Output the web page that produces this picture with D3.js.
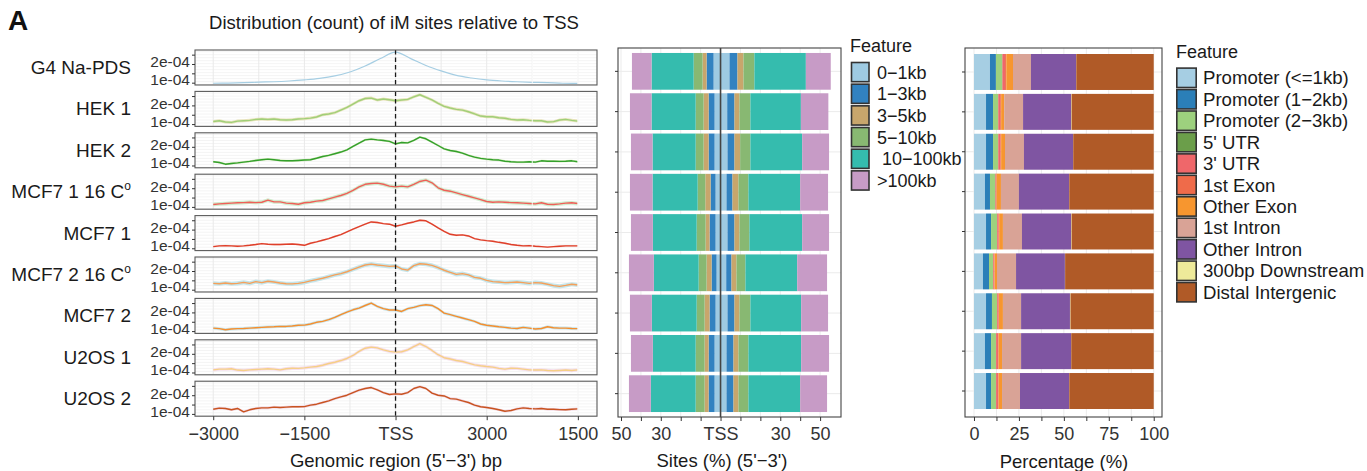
<!DOCTYPE html>
<html><head><meta charset="utf-8">
<script src="https://cdn.jsdelivr.net/npm/d3@7"></script>
<style>
body{margin:0;background:#fff}
text{font-family:"Liberation Sans",Arial,Helvetica,sans-serif;}
</style>
</head><body>
<svg id="c" width="1367" height="471"></svg>
<script>
// ---------------- DATA ----------------
const samples = ["G4 Na-PDS","HEK 1","HEK 2","MCF7 1 16 C","MCF7 1","MCF7 2 16 C","MCF7 2","U2OS 1","U2OS 2"];
const sampleSup = ["","","","o","","o","","",""];

// Left panel: genomic positions (bp) and density values (units of 1e-4)
const g4Pos = [-3000,-2750,-2500,-2250,-2000,-1750,-1500,-1250,-1000,-750,-500,-250,0,250,500,750,1000,1250,1500,1750,2000,2250,2500,2750,3000];
const g4Vals = [0.97,0.98,1.00,1.03,1.05,1.09,1.15,1.23,1.36,1.57,1.89,2.29,2.63,2.29,1.92,1.63,1.39,1.25,1.15,1.09,1.05,1.02,1.00,0.97,0.96];

const pos = [-3000,-2900,-2800,-2700,-2600,-2500,-2400,-2300,-2200,-2100,-2000,-1900,-1800,-1700,-1600,-1500,-1400,-1300,-1200,-1100,-1000,-900,-800,-700,-600,-500,-400,-300,-200,-100,0,100,200,300,400,500,600,700,800,900,1000,1100,1200,1300,1400,1500,1600,1700,1800,1900,2000,2100,2200,2300,2400,2500,2600,2700,2800,2900,3000];
const hek1 = [1.14,1.18,1.11,1.09,1.16,1.18,1.20,1.25,1.27,1.25,1.27,1.23,1.22,1.23,1.27,1.29,1.32,1.38,1.50,1.54,1.61,1.75,1.89,2.07,2.25,2.37,2.39,2.29,2.34,2.30,2.25,2.29,2.32,2.46,2.57,2.43,2.29,2.11,1.95,1.86,1.79,1.75,1.66,1.55,1.43,1.39,1.39,1.34,1.31,1.25,1.22,1.23,1.20,1.18,1.18,1.11,1.13,1.22,1.25,1.20,1.16];
const hek2 = [1.20,1.16,1.07,1.11,1.14,1.18,1.22,1.27,1.31,1.34,1.31,1.27,1.25,1.25,1.27,1.29,1.31,1.39,1.48,1.54,1.63,1.72,1.84,2.02,2.20,2.37,2.41,2.37,2.34,2.29,2.16,2.23,2.21,2.34,2.52,2.43,2.25,2.07,1.89,1.80,1.75,1.66,1.54,1.45,1.38,1.34,1.31,1.29,1.23,1.20,1.18,1.18,1.20,1.18,1.25,1.23,1.23,1.22,1.23,1.25,1.20];
const mcf7_1_16 = [1.13,1.16,1.18,1.20,1.22,1.23,1.25,1.23,1.25,1.36,1.27,1.27,1.20,1.18,1.14,1.22,1.25,1.31,1.34,1.43,1.52,1.61,1.72,1.88,2.07,2.21,2.25,2.27,2.21,2.11,2.07,2.11,2.07,2.21,2.36,2.43,2.29,2.02,1.89,1.84,1.75,1.66,1.57,1.48,1.39,1.29,1.25,1.27,1.25,1.23,1.22,1.20,1.18,1.16,1.22,1.14,1.13,1.16,1.20,1.22,1.18];
const mcf7_1 = [1.09,1.13,1.14,1.13,1.11,1.13,1.16,1.20,1.25,1.22,1.20,1.20,1.22,1.23,1.20,1.16,1.27,1.34,1.43,1.52,1.63,1.73,1.88,2.02,2.16,2.29,2.41,2.38,2.32,2.29,2.18,2.25,2.34,2.41,2.50,2.47,2.29,2.09,1.91,1.75,1.70,1.72,1.66,1.52,1.45,1.41,1.38,1.32,1.27,1.20,1.16,1.13,1.14,1.11,1.09,1.06,1.09,1.11,1.13,1.13,1.13];
const mcf7_2_16 = [1.34,1.32,1.36,1.32,1.34,1.39,1.34,1.43,1.38,1.45,1.41,1.36,1.32,1.31,1.34,1.39,1.47,1.54,1.61,1.70,1.79,1.86,1.96,2.09,2.21,2.32,2.37,2.32,2.29,2.25,2.27,2.11,2.05,2.29,2.39,2.36,2.30,2.18,2.04,1.93,1.82,1.86,1.79,1.66,1.61,1.50,1.43,1.41,1.38,1.39,1.41,1.38,1.34,1.38,1.36,1.29,1.22,1.18,1.23,1.29,1.25];
const mcf7_2 = [1.16,1.13,1.07,1.11,1.13,1.14,1.16,1.18,1.20,1.22,1.23,1.25,1.25,1.27,1.31,1.32,1.38,1.47,1.52,1.61,1.73,1.88,2.02,2.14,2.23,2.37,2.50,2.32,2.20,2.13,2.13,2.05,2.20,2.27,2.36,2.41,2.37,2.20,1.96,1.88,1.79,1.70,1.61,1.52,1.38,1.31,1.27,1.23,1.20,1.16,1.14,1.20,1.16,1.11,1.14,1.23,1.18,1.16,1.16,1.14,1.13];
const u2os1 = [1.14,1.18,1.18,1.20,1.13,1.11,1.14,1.16,1.18,1.20,1.18,1.14,1.20,1.23,1.22,1.25,1.29,1.32,1.39,1.48,1.55,1.64,1.75,1.91,2.13,2.30,2.36,2.32,2.21,2.13,2.09,2.11,2.21,2.39,2.54,2.39,2.18,1.95,1.79,1.72,1.64,1.59,1.50,1.41,1.36,1.32,1.29,1.22,1.18,1.23,1.22,1.18,1.14,1.13,1.14,1.11,1.09,1.11,1.13,1.11,1.14];
const u2os2 = [1.25,1.31,1.29,1.22,1.29,1.11,1.22,1.29,1.32,1.32,1.36,1.34,1.36,1.38,1.38,1.39,1.47,1.52,1.61,1.70,1.82,1.91,2.00,2.14,2.27,2.36,2.41,2.29,2.14,2.04,2.07,2.05,2.14,2.36,2.46,2.36,2.11,2.00,1.96,1.82,1.79,1.70,1.61,1.47,1.38,1.34,1.29,1.22,1.14,1.18,1.27,1.32,1.29,1.27,1.29,1.25,1.25,1.23,1.22,1.25,1.27];
const ciHalf = [0,0.08,0.06,0.10,0.05,0.11,0.08,0.09,0.07]; // ribbon half-width, 1e-4 units
const xTickVals = [-3000,-1500,0,1500,3000];
const xTickLabels = ["\u22123000","\u22121500","TSS","3000","1500"];

// Middle panel: distance-to-TSS distribution (% of sites), upstream / downstream
const distFeatures = ["0\u22121kb","1\u22123kb","3\u22125kb","5\u221210kb"," 10\u2212100kb",">100kb"];
const up0to1 = [3.5,3,3,2.5,2.5,2,2.5,3,3];
const up1to3 = [3.5,3,3,2.5,3,2.5,3,3,3];
const up3to5 = [2,2.5,2.5,2.65,2,2.5,2.5,2,2];
const up5to10 = [4.5,4,4,3.85,4.5,4,4,4.5,4.5];
const up10to100 = [21.15,22.15,21.65,22.65,22,22.5,22.5,21.5,22.5];
const upOver100 = [9.85,10.85,10.85,11.35,11,12.5,11,11,11];
const dn0to1 = [4.5,3.35,3.5,3,3.5,2.85,3.5,3,3];
const dn1to3 = [4,3.65,3.5,3,3.5,2.65,3.5,3.5,3.5];
const dn3to5 = [3,2.5,2.85,3,2.5,2.5,2.5,2.5,2.5];
const dn5to10 = [5.5,5.5,5.15,5,5,4.5,5.5,5,5];
const dn10to100 = [25.85,25.35,26,26,26.5,26,25.5,26.5,26];
const dnOver100 = [12.5,13.8,13.5,14,13.5,15,13.5,14,13.5];
const distTickVals = [-50,-30,0,30,50];
const distTickLabels = ["50","30","TSS","30","50"];

// Right panel: genomic annotation (%)
const annoFeatures = ["Promoter (<=1kb)","Promoter (1\u22122kb)","Promoter (2\u22123kb)","5' UTR","3' UTR","1st Exon","Other Exon","1st Intron","Other Intron","300bp Downstream","Distal Intergenic"];
const promoter1kb = [8.9,6.7,6.7,6.1,6.7,5.0,6.7,6.1,6.7];
const promoter2kb = [3.3,3.9,3.9,2.8,2.8,3.35,3.3,3.4,2.8];
const promoter3kb = [3.4,2.8,2.8,2.8,3.3,2.25,2.8,2.7,2.7];
const utr5 = [0.2,0.1,0.1,0.2,0.1,0.1,0.1,0.1,0.1];
const utr3 = [1.5,1.1,1.2,0.4,0.8,0.6,0.8,1.1,1.1];
const exon1 = [0.7,0.5,0.4,0.3,0.3,0.2,0.2,0.3,0.3];
const otherExon = [3.7,1.7,2.15,2.4,2.1,1.3,2.2,1.9,1.9];
const intron1 = [10,10.5,10.55,10,10.6,10.6,10.1,10.6,10];
const otherIntron = [25.1,26.7,27.3,27.9,27.3,27.2,27.2,27.8,27.3];
const downstream300 = [0.1,0.3,0.1,0.1,0.3,0.1,0.3,0.1,0.1];
const distal = [43.1,45.7,44.8,47.0,45.7,49.3,46.3,45.9,47.0];
const pctTickVals = [0,25,50,75,100];

// ---------------- STYLE ----------------
const lineColors = ["#a6cee3","#a0cf78","#33a02c","#ef5f58","#df3f2a","#f5a05a","#f58e2e","#f6cf86","#c8541f"];
const ribbonColors = [null,"#e4e0b4","#cfe6b4","#cbe9c8","#f4d5ce","#bfe2e8","#c4e3ea","#f4dbea","#f0cfdf"];
const distColors = ["#9ecae2","#3282c0","#c8a66c","#88b872","#35bcae","#c79bc6"];
const annoColors = ["#a6cee3","#2b7fb8","#9dd17e","#6b9e4a","#ef676a","#ef6b4a","#f7962f","#d9a396","#7f55a2","#eeea9a","#b05a27"];
const txt = "#1a1a1a", tick = "#333";
const FF = "'Liberation Sans',Arial,sans-serif";

const svg = d3.select("#c");
svg.append("rect").attr("width",1367).attr("height",471).attr("fill","#fff");

// ---------------- LEFT PANEL ----------------
svg.append("text").attr("x",8).attr("y",30).attr("font-size",28).attr("font-weight","bold").attr("fill","#111").text("A");
svg.append("text").attr("x",394).attr("y",29).attr("text-anchor","middle").attr("font-size",18.5).attr("fill",txt)
  .text("Distribution (count) of iM sites relative to TSS");

const seriesVals = [g4Vals,hek1,hek2,mcf7_1_16,mcf7_1,mcf7_2_16,mcf7_2,u2os1,u2os2];
const facet = d3.scaleBand().domain(samples).range([50,416.2]).paddingInner(0.155).paddingOuter(0);
const xL = d3.scaleLinear().domain([-3300,3315]).range([195,597]);
const bh = facet.bandwidth();

samples.forEach((s,i)=>{
  const g = svg.append("g").attr("transform",`translate(0,${facet(s)})`);
  const y = d3.scaleLinear().domain([0.877e-4,2.749e-4]).range([bh,0]);
  g.append("rect").attr("x",195).attr("y",0).attr("width",402).attr("height",bh).attr("fill","#fff");
  g.selectAll("line.hg").data(d3.range(0.9e-4,2.75e-4,0.16e-4)).enter().append("line")
    .attr("x1",195).attr("x2",597).attr("y1",d=>y(d)).attr("y2",d=>y(d))
    .attr("stroke","#f1f1f1").attr("stroke-width",0.8);
  g.selectAll("line.vg").data(d3.range(-3000,3001,750)).enter().append("line")
    .attr("x1",d=>xL(d)).attr("x2",d=>xL(d)).attr("y1",0).attr("y2",bh)
    .attr("stroke","#e9e9e9").attr("stroke-width",1);
  const xs = i===0 ? g4Pos : pos;
  const vals = seriesVals[i];
  const data = xs.map((x,k)=>({x, v: vals[k]*1e-4}));
  if (ciHalf[i] > 0) {
    const area = d3.area().x(d=>xL(d.x)).y0(d=>y(d.v - ciHalf[i]*1e-4)).y1(d=>y(d.v + ciHalf[i]*1e-4));
    g.append("path").datum(data).attr("d",area).attr("fill",ribbonColors[i]).attr("opacity",0.9);
  }
  const line = d3.line().x(d=>xL(d.x)).y(d=>y(d.v)).curve(i===0 ? d3.curveMonotoneX : d3.curveLinear);
  g.append("path").datum(data).attr("d",line).attr("fill","none").attr("stroke",lineColors[i])
    .attr("stroke-width",i===0?1.2:1.4).attr("stroke-linejoin","round");
  g.selectAll("line.wg").data([2250,3000]).enter().append("line")
    .attr("x1",d=>xL(d)).attr("x2",d=>xL(d)).attr("y1",0).attr("y2",bh)
    .attr("stroke","#fff").attr("stroke-width",1).attr("opacity",0.9);
  g.append("line").attr("x1",xL(0)).attr("x2",xL(0)).attr("y1",0).attr("y2",bh)
    .attr("stroke","#1a1a1a").attr("stroke-width",1.3).attr("stroke-dasharray","4.5,3");
  g.append("rect").attr("x",195).attr("y",0).attr("width",402).attr("height",bh)
    .attr("fill","none").attr("stroke","#5a5a5a").attr("stroke-width",1.1);
  // y axis
  const ya = g.append("g").attr("transform","translate(195,0)")
    .call(d3.axisLeft(y).tickValues([1e-4,1.5e-4,2e-4,2.5e-4]).tickSize(3).tickPadding(2)
      .tickFormat(d=> Math.abs(d-1e-4)<1e-9 ? "1e-04" : Math.abs(d-2e-4)<1e-9 ? "2e-04" : ""));
  ya.select(".domain").remove();
  ya.selectAll("line").attr("stroke",tick);
  ya.selectAll("text").attr("font-size",15.5).attr("fill",tick).attr("font-family",FF)
    .attr("transform",d=> Math.abs(d-1e-4)<1e-9 ? "translate(0,-2.7)" : Math.abs(d-2e-4)<1e-9 ? "translate(0,-2)" : null);
  const lab = svg.append("text").attr("x",131).attr("y",facet(s)+bh/2+6.5).attr("text-anchor","end")
    .attr("font-size",19).attr("fill",txt).text(s);
  if (sampleSup[i]) lab.append("tspan").attr("dy",-8).attr("font-size",12).text(sampleSup[i]);
});
{
  const ax = svg.append("g").attr("transform",`translate(0,${facet(samples[8])+bh})`)
    .call(d3.axisBottom(xL).tickValues(xTickVals).tickSize(4).tickPadding(7)
      .tickFormat((d,k)=>xTickLabels[k]));
  ax.select(".domain").remove();
  ax.selectAll("line").attr("stroke",tick);
  ax.selectAll("text").attr("font-size",18).attr("fill",tick).attr("font-family",FF);
  svg.append("text").attr("x",396).attr("y",467).attr("text-anchor","middle").attr("font-size",18.5).attr("fill",txt)
    .text("Genomic region (5'\u22123') bp");
}

// ---------------- MIDDLE PANEL ----------------
{
  const xM = d3.scaleLinear().domain([-51.5,60.5]).range([618,841]);
  const yM = d3.scaleBand().domain(samples).range([51.2,413.8]).paddingInner(0.088).paddingOuter(0.044);
  const g = svg.append("g");
  d3.range(-50,51,10).forEach(v=>{
    g.append("line").attr("x1",xM(v)).attr("x2",xM(v)).attr("y1",48).attr("y2",417).attr("stroke","#ebebeb").attr("stroke-width",1);
  });
  samples.forEach(s=>{
    g.append("line").attr("x1",618).attr("x2",841).attr("y1",yM(s)+yM.bandwidth()/2).attr("y2",yM(s)+yM.bandwidth()/2).attr("stroke","#ebebeb");
  });
  const upArr = [up0to1,up1to3,up3to5,up5to10,up10to100,upOver100];
  const dnArr = [dn0to1,dn1to3,dn3to5,dn5to10,dn10to100,dnOver100];
  const keys = d3.range(6);
  const upRows = samples.map((s,r)=>{const o={s}; keys.forEach(k=>o[k]=upArr[k][r]); return o;});
  const dnRows = samples.map((s,r)=>{const o={s}; keys.forEach(k=>o[k]=dnArr[k][r]); return o;});
  const st = d3.stack().keys(keys);
  st(upRows).forEach((layer,k)=>{
    layer.forEach(d=>{
      g.append("rect").attr("x",xM(-d[1])).attr("width",xM(-d[0])-xM(-d[1]))
        .attr("y",yM(d.data.s)).attr("height",yM.bandwidth()).attr("fill",distColors[k]);
    });
  });
  st(dnRows).forEach((layer,k)=>{
    layer.forEach(d=>{
      g.append("rect").attr("x",xM(d[0])).attr("width",xM(d[1])-xM(d[0]))
        .attr("y",yM(d.data.s)).attr("height",yM.bandwidth()).attr("fill",distColors[k]);
    });
  });
  g.append("line").attr("x1",xM(0)).attr("x2",xM(0)).attr("y1",48).attr("y2",417).attr("stroke","#444").attr("stroke-width",1.6);
  g.append("rect").attr("x",618).attr("y",48).attr("width",223).attr("height",369).attr("fill","none").attr("stroke","#444").attr("stroke-width",1.1);
  const ax = g.append("g").attr("transform","translate(0,417)")
    .call(d3.axisBottom(xM).tickValues(d3.range(-50,51,10)).tickSize(4).tickPadding(6)
      .tickFormat(d=>{const k=distTickVals.indexOf(d); return k>=0?distTickLabels[k]:"";}));
  ax.select(".domain").remove();
  ax.selectAll("line").attr("stroke",tick);
  ax.selectAll("text").attr("font-size",18).attr("fill",tick).attr("font-family",FF);
  const ay = g.append("g").attr("transform","translate(618,0)").call(d3.axisLeft(yM).tickSize(3).tickFormat(""));
  ay.select(".domain").remove(); ay.selectAll("line").attr("stroke",tick);
  svg.append("text").attr("x",722).attr("y",467).attr("text-anchor","middle").attr("font-size",18.5).attr("fill",txt)
    .text("Sites (%) (5'\u22123')");
  svg.append("text").attr("x",850).attr("y",52).attr("font-size",18).attr("fill",txt).text("Feature");
  distFeatures.forEach((f,k)=>{
    const y0 = 61.7 + k*21.67;
    svg.append("rect").attr("x",851.5).attr("y",y0+0.8).attr("width",17.5).attr("height",19.2)
      .attr("fill",distColors[k]).attr("stroke","#333").attr("stroke-width",1.6);
    svg.append("text").attr("x",877).attr("y",y0+10.4+6.4).attr("font-size",18).attr("fill",txt)
      .style("white-space","pre").text(f);
  });
}

// ---------------- RIGHT PANEL ----------------
{
  const xR = d3.scaleLinear().domain([-5,104.6]).range([965,1162]);
  const yR = d3.scaleBand().domain(samples).range([52.05,410.95]).paddingInner(0.098).paddingOuter(0.049);
  const g = svg.append("g");
  d3.range(0,100.1,12.5).forEach(v=>{
    g.append("line").attr("x1",xR(v)).attr("x2",xR(v)).attr("y1",48).attr("y2",417).attr("stroke","#ebebeb");
  });
  samples.forEach(s=>{
    g.append("line").attr("x1",965).attr("x2",1162).attr("y1",yR(s)+yR.bandwidth()/2).attr("y2",yR(s)+yR.bandwidth()/2).attr("stroke","#ebebeb");
  });
  const arr = [promoter1kb,promoter2kb,promoter3kb,utr5,utr3,exon1,otherExon,intron1,otherIntron,downstream300,distal];
  const keys = d3.range(arr.length);
  const rows = samples.map((s,r)=>{const o={s}; keys.forEach(k=>o[k]=arr[k][r]); return o;});
  d3.stack().keys(keys)(rows).forEach((layer,k)=>{
    layer.forEach(d=>{
      g.append("rect").attr("x",xR(d[0])).attr("width",Math.max(0,xR(d[1])-xR(d[0])))
        .attr("y",yR(d.data.s)).attr("height",yR.bandwidth()).attr("fill",annoColors[k]);
    });
  });
  g.append("rect").attr("x",965).attr("y",48).attr("width",197).attr("height",369).attr("fill","none").attr("stroke","#444").attr("stroke-width",1.1);
  const ax = g.append("g").attr("transform","translate(0,417)")
    .call(d3.axisBottom(xR).tickValues(d3.range(0,100.1,12.5)).tickSize(4).tickPadding(6)
      .tickFormat(d=> pctTickVals.includes(d) ? String(d) : ""));
  ax.select(".domain").remove();
  ax.selectAll("line").attr("stroke",tick);
  ax.selectAll("text").attr("font-size",18).attr("fill",tick).attr("font-family",FF);
  const ay = g.append("g").attr("transform","translate(965,0)").call(d3.axisLeft(yR).tickSize(3).tickFormat(""));
  ay.select(".domain").remove(); ay.selectAll("line").attr("stroke",tick);
  svg.append("text").attr("x",1064).attr("y",468).attr("text-anchor","middle").attr("font-size",18.5).attr("fill",txt)
    .text("Percentage (%)");
  svg.append("text").attr("x",1176).attr("y",58).attr("font-size",18).attr("fill",txt).text("Feature");
  annoFeatures.forEach((f,k)=>{
    const y0 = 67.3 + k*21.44;
    svg.append("rect").attr("x",1176.8).attr("y",y0+0.8).attr("width",19.4).attr("height",19.4)
      .attr("fill",annoColors[k]).attr("stroke","#333").attr("stroke-width",1.6);
    svg.append("text").attr("x",1203).attr("y",y0+10.5+6.6).attr("font-size",18.6).attr("fill",txt).text(f);
  });
}
</script>
</body></html>
